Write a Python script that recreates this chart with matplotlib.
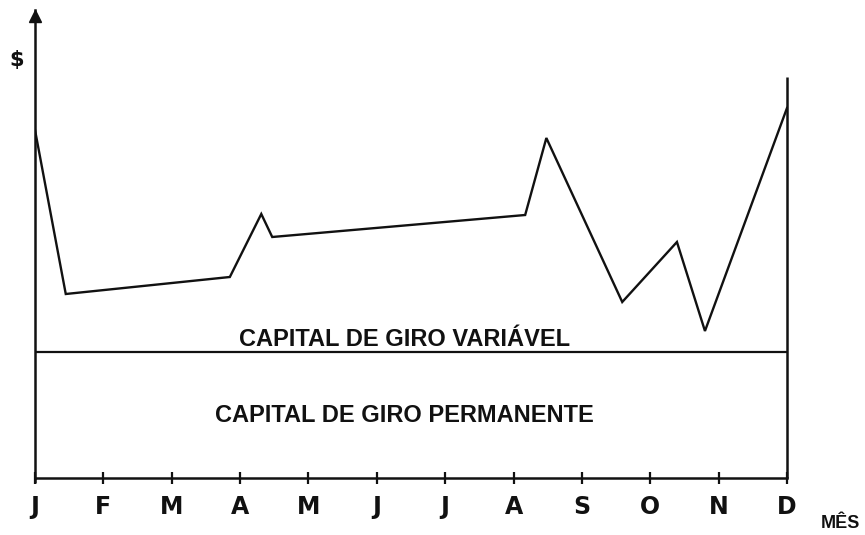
import matplotlib
matplotlib.use('Agg')
from matplotlib import pyplot as plt

# months along the x axis
months = ['J', 'F', 'M', 'A', 'M', 'J', 'J', 'A', 'S', 'O', 'N', 'D']

# variable working capital curve (x in months from J, y in chart units)
curve_x = [0, 0.45, 2.85, 3.31, 3.47, 7.17, 7.48, 8.59, 9.39, 9.80, 11]
curve_y = [348, 184, 201, 264, 241, 263, 340, 176, 236, 147, 370]

# permanent working capital level and right-side bound
permanent_level = 126
right_top = 401

label_var = 'CAPITAL DE GIRO VARIÁVEL'
label_perm = 'CAPITAL DE GIRO PERMANENTE'

fig = plt.figure(figsize=(8.65, 5.35), dpi=100)
ax = fig.add_axes([35 / 865, 57 / 535, 752 / 865, 468 / 535])

ax.plot(curve_x, curve_y, color='#111111', lw=1.7, solid_joinstyle='miter')
ax.axhline(permanent_level, color='#111111', lw=1.6)
ax.vlines(11, 0, right_top, color='#111111', lw=1.8, clip_on=False)
ax.vlines(0, -5, 0, color='#111111', lw=1.8, clip_on=False)

ax.set_xlim(0, 11)
ax.set_ylim(0, 468)
ax.spines['top'].set_visible(False)
ax.spines['right'].set_visible(False)
for s in ['left', 'bottom']:
    ax.spines[s].set_linewidth(1.8)
    ax.spines[s].set_color('#111111')

# arrow at the top of the y axis
ax.plot(0, 462, marker='^', color='#111111', ms=8, clip_on=False)

ax.set_xticks(range(len(months)))
ax.set_xticklabels(months, fontsize=17, fontweight='bold', family='DejaVu Sans')
ax.tick_params(axis='x', direction='inout', length=9, width=1.6, pad=8, colors='#111111')
ax.set_yticks([])

label_font = ['Liberation Sans', 'DejaVu Sans']
ax.text(5.4, 138, label_var, ha='center', va='center', fontsize=17,
        fontweight='bold', family=label_font, color='#111111')
ax.text(5.4, 63, label_perm, ha='center', va='center', fontsize=17,
        fontweight='bold', family=label_font, color='#111111')

fig.text(17 / 865, 1 - 60 / 535, '$', ha='center', va='center', fontsize=15,
         fontweight='bold', color='#111111')
fig.text(840 / 865, 1 - 524 / 535, 'MÊS', ha='center', va='center', fontsize=13,
         fontweight='bold', family=label_font, color='#111111')

fig.savefig('out.png', dpi=100)
